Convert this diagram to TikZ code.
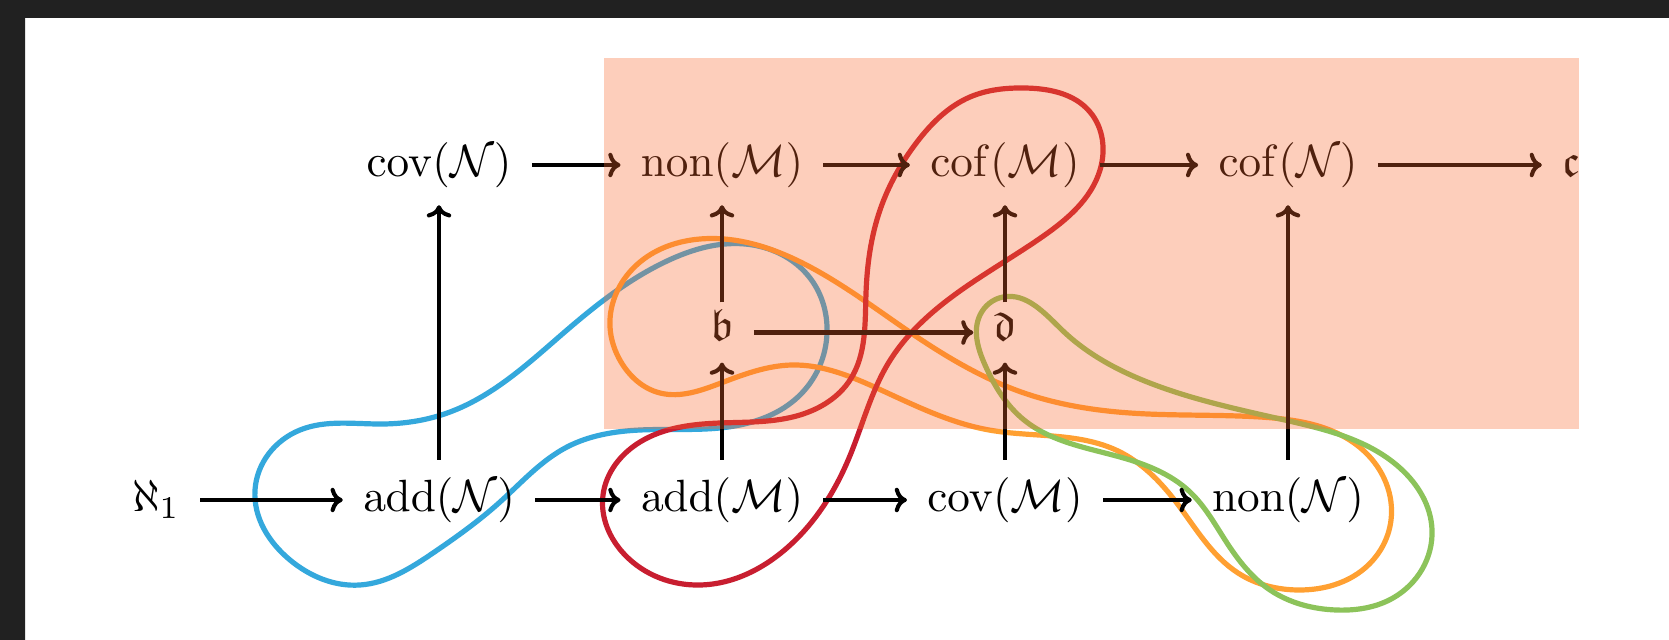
\documentclass[tikz,border=0pt]{standalone}
\usepackage{amsmath,amssymb}
\usepackage{xcolor}
\usepackage{tikz}
\usetikzlibrary{arrows.meta,positioning,hobby}
\definecolor{cdblue}{RGB}{52,168,220}
\definecolor{cdred}{RGB}{200,30,48}
\definecolor{cdgreen}{RGB}{140,195,90}
\definecolor{cdorange}{RGB}{255,160,50}
\definecolor{cdpeach}{RGB}{250,103,44}
\definecolor{cdframe}{RGB}{33,33,33}

\begin{document}
\begin{tikzpicture}[
  x=0.2212pt, y=-0.2212pt,
  node distance=37.05pt and 62.6pt, on grid,
  cell/.style={inner xsep=4.3pt, inner ysep=2.2pt, text height=9pt, text depth=4pt},
  mid/.style={inner ysep=0pt, text height=8.3pt, text depth=4.6pt},
  arr/.style={-{Computer Modern Rightarrow[length=2.7pt,width=5.4pt]}, line width=0.9pt},
  loopline/.style={line width=1.15pt, line join=round}
]
\useasboundingbox (0,0) rectangle (1669,640);
\fill[white] (0,0) rectangle (1669,640);
\fill[cdframe] (0,0) rectangle (1669,18) (0,0) rectangle (25,640);

% the four loops
\draw[loopline, cdblue] plot[closed hobby] coordinates {
  (255,490) (300,430) (383,424) (450,412) (567,330) (667,261) (745,244)
  (810,278) (827,327) (801,394) (740,425) (640,430) (567,447) (500,502)
  (433,553) (360,585) (290,560)};
\draw[loopline, cdorange] plot[closed hobby] coordinates {
  (610,327) (640,262) (700,239) (812,268) (917,337) (1024,393) (1130,413)
  (1260,417) (1365,452) (1391,520) (1365,568) (1300,590) (1238,573)
  (1176,502) (1118,451) (989,430) (881,390) (792,365) (721,383) (660,393)
  (621,362)};
\draw[loopline, cdgreen] plot[closed hobby] coordinates {
  (1003,297) (1062,330) (1155,385) (1289,421) (1400,468) (1432,530)
  (1393,598) (1336,610) (1270,590) (1227,543) (1190,492) (1120,457)
  (1024,420) (985,365) (980,315)};
\draw[loopline, cdred] plot[closed hobby] coordinates {
  (1024,88) (1090,112) (1100,170) (1042,237) (953,296) (889,362) (849,458)
  (788,547) (700,585) (625,555) (603,495) (640,442) (720,423) (800,415)
  (850,380) (866,293) (880,210) (917,142) (970,97)};

\begin{scope}
\clip (0,0) rectangle (1578.5,640);
\node[cell] (alephone) at (156,500) {$\aleph_1$};
\node[cell, right=of alephone] (addN) {$\mathrm{add}(\mathcal{N})$};
\node[cell, right=of addN] (addM) {$\mathrm{add}(\mathcal{M})$};
\node[cell, right=of addM] (covM) {$\mathrm{cov}(\mathcal{M})$};
\node[cell, right=of covM] (nonN) {$\mathrm{non}(\mathcal{N})$};
\node[cell, mid, above=of addM] (bnum) {$\mathfrak{b}$};
\node[cell, mid, above=of covM] (dnum) {$\mathfrak{d}$};
\node[cell, above=of bnum] (nonM) {$\mathrm{non}(\mathcal{M})$};
\node[cell, above=of dnum] (cofM) {$\mathrm{cof}(\mathcal{M})$};
\node[cell, left=of nonM] (covN) {$\mathrm{cov}(\mathcal{N})$};
\node[cell, right=of cofM] (cofN) {$\mathrm{cof}(\mathcal{N})$};
\node[cell, right=of cofN] (cont) {$\mathfrak{c}$};

\draw[arr] (alephone) -- (addN);
\draw[arr] (addN) -- (addM);
\draw[arr] (addM) -- (covM);
\draw[arr] (covM) -- (nonN);
\draw[arr] (covN) -- (nonM);
\draw[arr] (nonM) -- (cofM);
\draw[arr] (cofM) -- (cofN);
\draw[arr] (cofN) -- (cont);
\draw[arr] (bnum) -- (dnum);
\draw[arr] (addN) -- (covN);
\draw[arr] (addM) -- (bnum);
\draw[arr] (bnum) -- (nonM);
\draw[arr] (covM) -- (dnum);
\draw[arr] (dnum) -- (cofM);
\draw[arr] (nonN) -- (cofN);
\end{scope}

\fill[cdpeach, opacity=0.32] (603.5,58.5) rectangle (1578.5,429);
\end{tikzpicture}
\end{document}
